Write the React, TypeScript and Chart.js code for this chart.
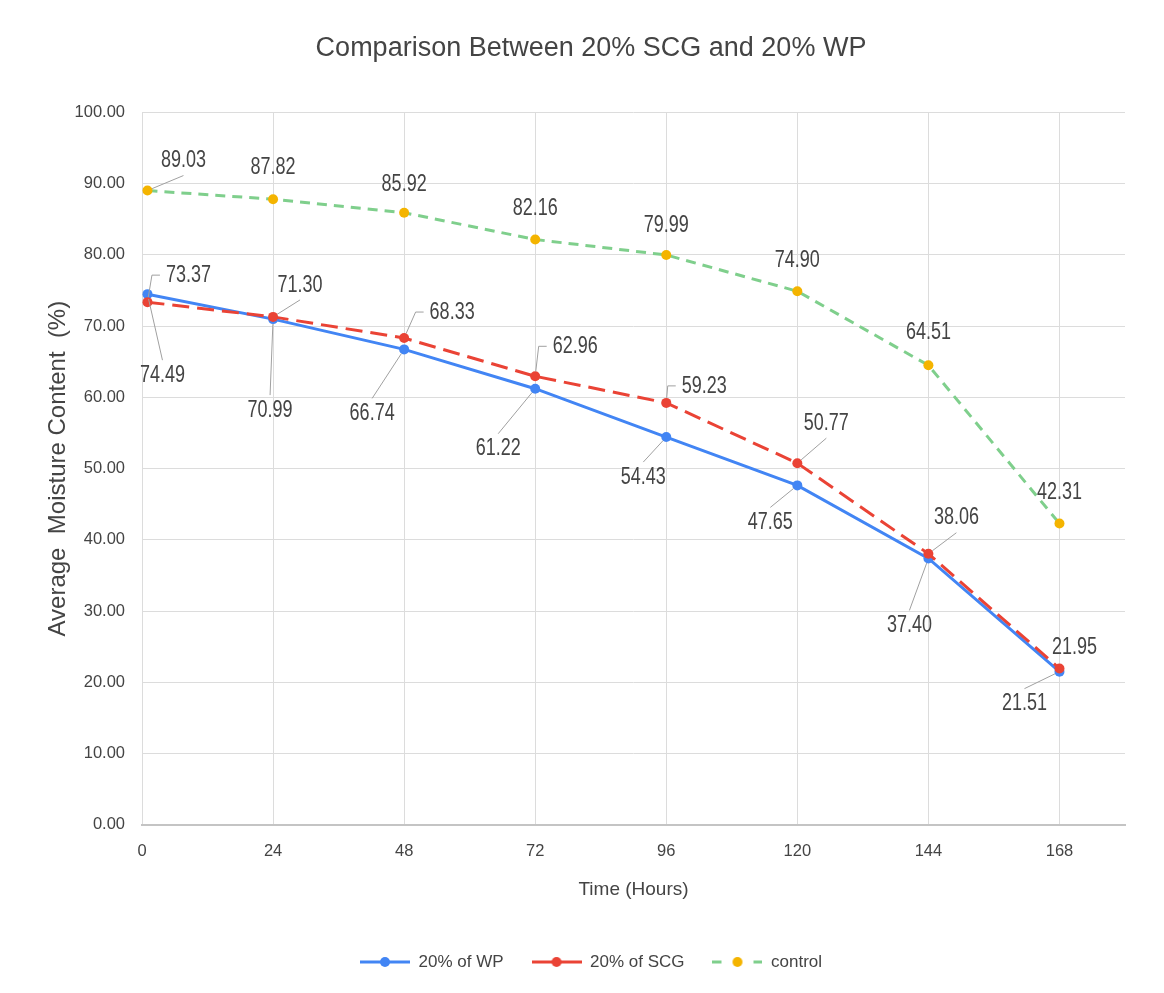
import React, { useEffect, useRef } from "react";
import { Chart, registerables } from "chart.js";

Chart.register(...registerables);

// ---- data ----
const hours = [1, 24, 48, 72, 96, 120, 144, 168];
const wpValues = [74.49, 70.99, 66.74, 61.22, 54.43, 47.65, 37.4, 21.51];
const scgValues = [73.37, 71.3, 68.33, 62.96, 59.23, 50.77, 38.06, 21.95];
const controlValues = [89.03, 87.82, 85.92, 82.16, 79.99, 74.9, 64.51, 42.31];
const seriesNames = ["20% of WP", "20% of SCG", "control"];
const chartTitle = "Comparison Between 20% SCG and 20% WP";
const xTitle = "Time (Hours)";
const yTitle = "Average  Moisture Content  (%)";

// ---- label layout (offset from point in px, leader: 0 none, 1 straight, 2 bracket) ----
const wpLabelLayout = [
  [15, 81, 1], [-3, 91, 1], [-32, 64, 1], [-37, 60, 1],
  [-23, 40, 1], [-27, 37, 1], [-19, 67, 1], [-35, 32, 1],
];
const scgLabelLayout = [
  [41, -27, 2], [27, -32, 1], [48, -26, 2], [40, -30, 2],
  [38, -17, 2], [29, -40, 1], [28, -36, 1], [15, -21, 0],
];
const controlLabelLayout = [
  [36, -30, 1], [0, -32, 0], [0, -28, 0], [0, -31, 0],
  [0, -30, 0], [0, -31, 0], [0, -33, 0], [0, -31, 0],
];

const FONT = '"Liberation Sans", Arial, sans-serif';
const TEXT = "#444444";
const BLUE = "#4285F4";
const RED = "#EA4335";
const GREEN = "#7fcf8c";
const YELLOW = "#F4B400";

function makeIcon(line: string, dot: string, dashed: boolean) {
  const c = document.createElement("canvas");
  c.width = 50;
  c.height = 14;
  const g = c.getContext("2d")!;
  g.strokeStyle = line;
  g.lineWidth = 3;
  g.beginPath();
  if (dashed) {
    g.moveTo(0, 7); g.lineTo(9, 7);
    g.moveTo(41, 7); g.lineTo(50, 7);
  } else {
    g.moveTo(0, 7); g.lineTo(50, 7);
  }
  g.stroke();
  g.fillStyle = dot;
  g.beginPath();
  g.arc(25, 7, 5, 0, Math.PI * 2);
  g.fill();
  return c;
}

const labelPlugin = {
  id: "pointValueLabels",
  afterDatasetsDraw(chart: any) {
    const ctx = chart.ctx as CanvasRenderingContext2D;
    const layouts = [wpLabelLayout, scgLabelLayout, controlLabelLayout];
    const values = [wpValues, scgValues, controlValues];
    ctx.save();
    ctx.font = `18px ${FONT}`;
    chart.data.datasets.forEach((_ds: any, di: number) => {
      const meta = chart.getDatasetMeta(di);
      meta.data.forEach((pt: any, i: number) => {
        const [dx, dy, leader] = layouts[di][i];
        const px = pt.x;
        const py = pt.y;
        const cx = px + dx;
        const cy = py + dy;
        const text = values[di][i].toFixed(2);
        const w = ctx.measureText(text).width;
        ctx.strokeStyle = "#a0a0a0";
        ctx.lineWidth = 1;
        const startFrom = (ex: number, ey: number) => {
          const len = Math.hypot(ex - px, ey - py) || 1;
          return [px + ((ex - px) / len) * 5, py + ((ey - py) / len) * 5];
        };
        if (leader === 1) {
          const ex = cx;
          const ey = cy + (dy < 0 ? 15 : -15);
          const [sx, sy] = startFrom(ex, ey);
          ctx.beginPath();
          ctx.moveTo(sx, sy);
          ctx.lineTo(ex, ey);
          ctx.stroke();
        } else if (leader === 2) {
          const left = cx - w / 2;
          const [sx, sy] = startFrom(left - 14, cy);
          ctx.beginPath();
          ctx.moveTo(sx, sy);
          ctx.lineTo(left - 14, cy);
          ctx.lineTo(left - 6, cy);
          ctx.stroke();
        }
        ctx.save();
        ctx.translate(cx, cy);
        ctx.scale(1, 1.35);
        ctx.fillStyle = TEXT;
        ctx.textAlign = "center";
        ctx.textBaseline = "middle";
        ctx.fillText(text, 0, 0);
        ctx.restore();
      });
    });
    ctx.restore();
  },
};

export default function App() {
  const ref = useRef<HTMLCanvasElement | null>(null);

  useEffect(() => {
    if (!ref.current) return;
    const icons = [
      makeIcon(BLUE, BLUE, false),
      makeIcon(RED, RED, false),
      makeIcon(GREEN, YELLOW, true),
    ];
    const toXY = (vals: number[]) => vals.map((v, i) => ({ x: hours[i], y: v }));
    const chart = new Chart(ref.current, {
      type: "line",
      data: {
        datasets: [
          {
            label: seriesNames[0],
            data: toXY(wpValues),
            borderColor: BLUE,
            backgroundColor: BLUE,
            borderWidth: 3,
            pointRadius: 5,
            pointBackgroundColor: BLUE,
            pointBorderColor: BLUE,
            pointBorderWidth: 0,
            tension: 0,
            order: 2,
          },
          {
            label: seriesNames[1],
            data: toXY(scgValues),
            borderColor: RED,
            backgroundColor: RED,
            borderWidth: 3,
            borderDash: [17, 8],
            pointRadius: 5,
            pointBackgroundColor: RED,
            pointBorderColor: RED,
            pointBorderWidth: 0,
            tension: 0,
            order: 1,
          },
          {
            label: seriesNames[2],
            data: toXY(controlValues),
            borderColor: GREEN,
            backgroundColor: YELLOW,
            borderWidth: 3,
            borderDash: [10, 7],
            pointRadius: 5,
            pointBackgroundColor: YELLOW,
            pointBorderColor: YELLOW,
            pointBorderWidth: 0,
            tension: 0,
            order: 0,
          },
        ],
      },
      options: {
        animation: false,
        responsive: true,
        maintainAspectRatio: false,
        events: [],
        font: { family: FONT },
        layout: { padding: { left: 49, right: 31, top: 0, bottom: 4.5 } },
        plugins: {
          title: {
            display: true,
            text: chartTitle,
            color: TEXT,
            font: { size: 27, weight: "normal", family: FONT },
            padding: { top: 24, bottom: 48 },
          },
          legend: {
            display: true,
            position: "bottom",
            labels: {
              usePointStyle: true,
              pointStyleWidth: 50,
              boxHeight: 14,
              padding: 28,
              color: TEXT,
              font: { size: 17, family: FONT },
              sort: (a: any, b: any) => a.datasetIndex - b.datasetIndex,
              generateLabels: (c: any) => {
                const items = (Chart.defaults.plugins.legend.labels as any).generateLabels(c);
                return items.map((it: any) => ({
                  ...it,
                  pointStyle: icons[it.datasetIndex],
                  lineWidth: 0,
                }));
              },
            },
          },
          tooltip: { enabled: false },
        },
        scales: {
          x: {
            type: "linear",
            min: 0,
            max: 180,
            ticks: {
              stepSize: 24,
              includeBounds: false,
              color: TEXT,
              font: { size: 16.5, family: FONT },
              padding: 17,
            },
            grid: { color: "#dcdcdc", drawTicks: false, lineWidth: 1 },
            border: { display: true, color: "#c4c4c4", width: 2 },
            title: {
              display: true,
              text: xTitle,
              color: TEXT,
              font: { size: 19, family: FONT },
              padding: { top: 0, bottom: 24 },
            },
          },
          y: {
            type: "linear",
            min: 0,
            max: 100,
            ticks: {
              stepSize: 10,
              color: TEXT,
              font: { size: 16.5, family: FONT },
              padding: 17,
              callback: (v: any) => Number(v).toFixed(2),
            },
            grid: { color: "#dcdcdc", drawTicks: false, lineWidth: 1 },
            border: { display: false },
            title: {
              display: true,
              text: yTitle,
              color: TEXT,
              font: { size: 24, family: FONT },
              padding: { top: -13, bottom: 0 },
            },
            afterFit: (s: any) => {
              s.width = 85;
            },
          },
        },
      },
      plugins: [labelPlugin],
    } as any);
    return () => chart.destroy();
  }, []);

  return (
    <div
      style={{
        position: "relative",
        width: 1148,
        height: 977,
        outline: "1px solid #d6d6d6",
        background: "#fff",
      }}
    >
      <canvas ref={ref} />
    </div>
  );
}
